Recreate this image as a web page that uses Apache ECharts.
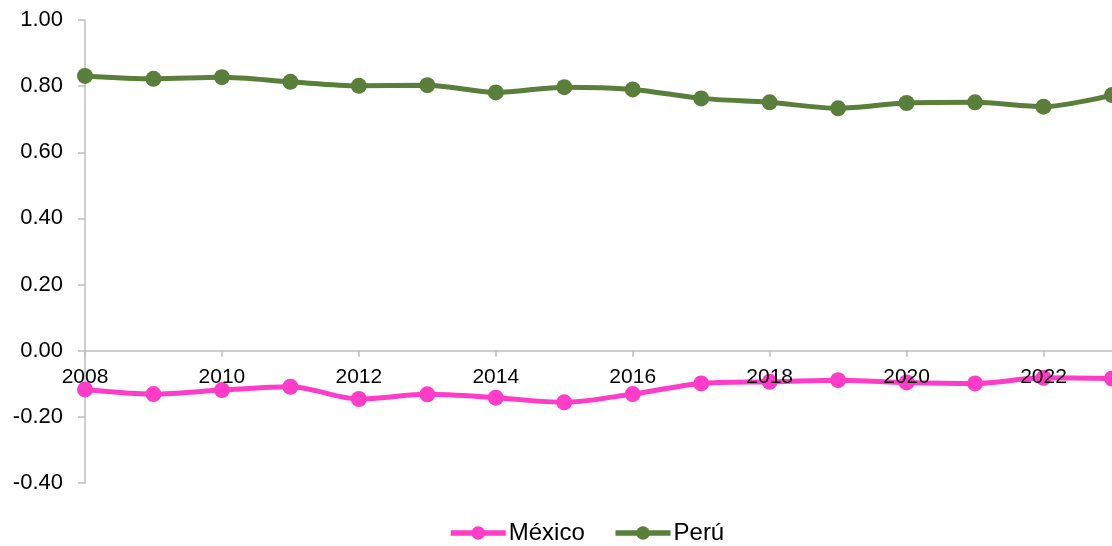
<!DOCTYPE html>
<html>
<head>
<meta charset="utf-8">
<script src="https://cdn.jsdelivr.net/npm/echarts@6/dist/echarts.min.js"></script>
<style>
html,body{margin:0;padding:0;background:#fff;}
#chart{width:1112px;height:546px;}
</style>
</head>
<body>
<div id="chart"></div>
<script>
var years = ['2008','2009','2010','2011','2012','2013','2014','2015','2016','2017','2018','2019','2020','2021','2022','2023'];
var mexico = [-0.117,-0.131,-0.119,-0.109,-0.146,-0.132,-0.142,-0.156,-0.131,-0.099,-0.094,-0.089,-0.096,-0.099,-0.082,-0.084];
var peru = [0.831,0.822,0.827,0.813,0.801,0.803,0.781,0.797,0.790,0.763,0.751,0.733,0.749,0.751,0.738,0.773];

var yMin = -0.4, yMax = 1.0;
var gridTop = 20, gridHeight = 463;
var zeroOffset = -gridHeight * (0 - yMin) / (yMax - yMin);

var chart = echarts.init(document.getElementById('chart'));
var font = 'Liberation Sans, Arial, sans-serif';
chart.setOption({
  animation: false,
  textStyle: {fontFamily: font},
  grid: {left: 85, top: gridTop, width: 1032, height: gridHeight, containLabel: false},
  legend: {
    bottom: 1,
    left: 448,
    padding: 0,
    itemWidth: 55,
    itemHeight: 17,
    itemGap: 28,
    lineStyle: {width: 5.5},
    textStyle: {fontSize: 24, color: '#000', fontFamily: font, padding: [0, 0, 0, -2]},
    data: ['México','Perú']
  },
  xAxis: {
    type: 'category',
    data: years,
    boundaryGap: false,
    position: 'bottom',
    offset: zeroOffset,
    z: 5,
    axisLine: {onZero: false, lineStyle: {color: '#bfbfbf', width: 1.5}},
    axisTick: {show: true, interval: 1, alignWithLabel: true, length: 6, lineStyle: {color: '#bfbfbf', width: 1.5}},
    axisLabel: {interval: 1, fontSize: 21, color: '#000', margin: 16, fontFamily: font},
    splitLine: {show: false}
  },
  yAxis: {
    type: 'value',
    min: yMin,
    max: yMax,
    interval: 0.2,
    axisLine: {show: true, lineStyle: {color: '#bfbfbf', width: 1.5}},
    axisTick: {show: true, length: 7, lineStyle: {color: '#bfbfbf', width: 1.5}},
    axisLabel: {fontSize: 22, color: '#000', margin: 22, fontFamily: font,
      formatter: function (v) { return v.toFixed(2); }},
    splitLine: {show: false}
  },
  series: [
    {
      name: 'México', type: 'line', data: mexico, smooth: 0.3,
      symbol: 'circle', symbolSize: 16,
      itemStyle: {color: '#ff3cc8'},
      lineStyle: {color: '#ff3cc8', width: 5}
    },
    {
      name: 'Perú', type: 'line', data: peru, smooth: 0.3,
      symbol: 'circle', symbolSize: 16,
      itemStyle: {color: '#5a7f3a'},
      lineStyle: {color: '#5a7f3a', width: 5}
    }
  ]
});
</script>
</body>
</html>
